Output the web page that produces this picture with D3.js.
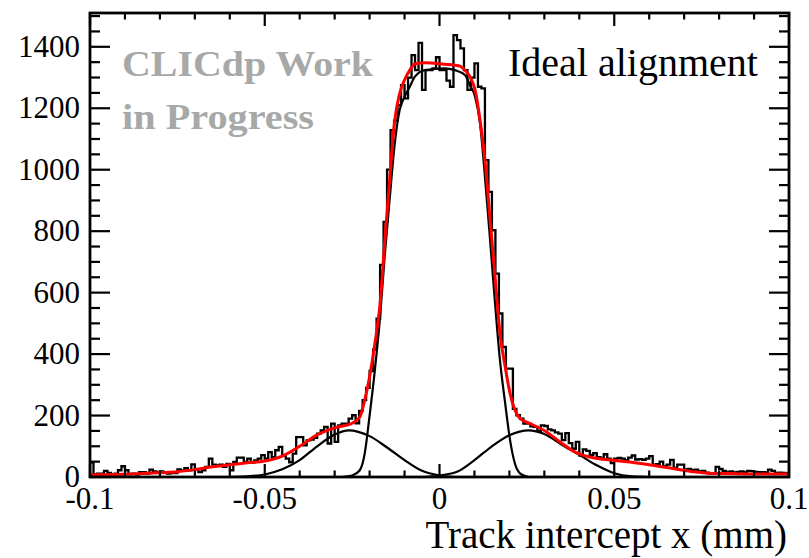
<!DOCTYPE html>
<html>
<head>
<meta charset="utf-8">
<script src="https://cdn.jsdelivr.net/npm/d3@7"></script>
<style>
  body { margin: 0; background: #fff; }
  svg { display: block; }
  text { font-family: "Liberation Serif", "Times New Roman", serif; }
</style>
</head>
<body>
<svg id="chart" width="809" height="558"></svg>
<script>
// Histogram: 200 bins of 0.001 mm from -0.1 to 0.1
const binLow = -0.1;
const binWidth = 0.001;
const counts = [
  47, 9, 11, 11, 20, 13, 9, 11, 22, 35,
  22, 9, 11, 8, 16, 16, 11, 24, 18, 16,
  18, 14, 11, 13, 13, 25, 21, 29, 22, 41,
  25, 16, 22, 33, 60, 40, 38, 40, 33, 43,
  22, 49, 63, 63, 49, 60, 47, 54, 60, 71,
  60, 81, 65, 87, 98, 70, 60, 48, 76, 130,
  130, 103, 119, 122, 127, 141, 152, 163, 109, 174,
  114, 168, 174, 174, 190, 201, 175, 215, 250, 290,
  345, 415, 515, 690, 830, 1000, 1129, 1160, 1210, 1275,
  1232, 1300, 1373, 1324, 1413, 1260, 1324, 1324, 1330, 1366,
  1324, 1324, 1290, 1270, 1438, 1422, 1395, 1324, 1260, 1300,
  1346, 1270, 1265, 1031, 928, 803, 662, 532, 423, 353,
  353, 222, 201, 190, 174, 174, 165, 163, 150, 168,
  166, 155, 152, 145, 141, 120, 143, 110, 92, 114,
  70, 90, 85, 72, 78, 65, 62, 74, 60, 45,
  60, 62, 60, 55, 63, 70, 57, 58, 56, 60,
  68, 40, 42, 50, 35, 40, 56, 30, 40, 40,
  25, 26, 22, 24, 18, 20, 14, 11, 11, 33,
  26, 20, 16, 18, 15, 17, 18, 16, 20, 19,
  17, 16, 16, 15, 24, 20, 13, 14, 13, 12
];

// Total fit (red)
const fitX = [-0.1, -0.09, -0.08, -0.075, -0.07, -0.065, -0.06, -0.055, -0.05, -0.045,
  -0.04, -0.035, -0.03, -0.025, -0.0228, -0.0214, -0.02, -0.0185, -0.017, -0.0157,
  -0.0142, -0.0128, -0.0114, -0.01, -0.0085, -0.0071, -0.004, 0.0015, 0.0044, 0.0059,
  0.0073, 0.0087, 0.0102, 0.0116, 0.013, 0.0144, 0.0159, 0.0173, 0.0188, 0.0202,
  0.0216, 0.0231, 0.0259, 0.0302, 0.0345, 0.0388, 0.043, 0.05, 0.0545, 0.06,
  0.066, 0.072, 0.077, 0.083, 0.09, 0.1];
const fitY = [7, 9, 14, 17, 24, 33, 40, 46, 52, 68,
  100, 137, 160, 175, 195, 250, 326, 434, 564, 760,
  977, 1161, 1248, 1292, 1324, 1344, 1348, 1343, 1340, 1337,
  1324, 1303, 1259, 1161, 1031, 847, 651, 467, 358, 271,
  217, 190, 174, 150, 114, 81, 65, 54, 49, 40,
  29, 18, 12, 11, 10, 10];

// Central component (black)
const coreX = [-0.028, -0.025, -0.0228, -0.0214, -0.02, -0.0185, -0.017, -0.0157, -0.0142, -0.0128,
  -0.0114, -0.01, -0.0085, -0.0071, -0.0042, 0.0015, 0.0044, 0.0073, 0.0087, 0.0102,
  0.0116, 0.013, 0.0144, 0.0159, 0.0173, 0.0188, 0.0202, 0.0216, 0.0231, 0.0255];
const coreY = [0, 5, 22, 76, 200, 347, 521, 716, 912, 1085,
  1194, 1237, 1270, 1302, 1324, 1330, 1324, 1308, 1275, 1237,
  1150, 977, 782, 564, 380, 239, 119, 43, 11, 0];

// Side components (black)
const sideLX = [-0.06, -0.055, -0.05, -0.045, -0.04, -0.035, -0.03, -0.026, -0.02, -0.015, -0.01, -0.005, 0, 0.005];
const sideLY = [0, 2, 8, 25, 55, 100, 138, 152, 133, 96, 55, 20, 5, 0];
const sideRX = [-0.005, 0, 0.005, 0.01, 0.015, 0.02, 0.0255, 0.03, 0.035, 0.04, 0.045, 0.05, 0.055, 0.06];
const sideRY = [0, 5, 17, 55, 100, 136, 152, 140, 105, 72, 38, 12, 2, 0];

const xTicks = [-0.1, -0.05, 0, 0.05, 0.1];
const xTickLabels = ["-0.1", "-0.05", "0", "0.05", "0.1"];
const yTicks = [0, 200, 400, 600, 800, 1000, 1200, 1400];

const frame = { left: 90, right: 789, top: 13, bottom: 477 };

const svg = d3.select("#chart");
const x = d3.scaleLinear().domain([-0.1, 0.1]).range([frame.left, frame.right]);
const y = d3.scaleLinear().domain([0, 1510]).range([frame.bottom, frame.top]);

svg.append("defs").append("clipPath").attr("id", "plotclip")
  .append("rect").attr("x", frame.left).attr("y", frame.top)
  .attr("width", frame.right - frame.left).attr("height", frame.bottom - frame.top);

const plot = svg.append("g").attr("clip-path", "url(#plotclip)");

// Histogram as ROOT-style steps
const edges = d3.range(counts.length + 1).map(i => binLow + i * binWidth);
const p = d3.path();
p.moveTo(x(edges[0]), y(0));
counts.forEach((c, i) => {
  p.lineTo(x(edges[i]), y(c));
  p.lineTo(x(edges[i + 1]), y(c));
});
p.lineTo(x(edges[counts.length]), y(0));
plot.append("path").attr("d", p.toString())
  .attr("fill", "none").attr("stroke", "#000").attr("stroke-width", 2.3)
  .attr("stroke-linejoin", "miter");

const line = d3.line().x(d => x(d[0])).y(d => y(d[1])).curve(d3.curveMonotoneX);
const zip = (a, b) => a.map((v, i) => [v, b[i]]);

[[sideLX, sideLY], [sideRX, sideRY], [coreX, coreY]].forEach(([xs, ys]) => {
  plot.append("path").attr("d", line(zip(xs, ys)))
    .attr("fill", "none").attr("stroke", "#000").attr("stroke-width", 2.2);
});

plot.append("path").attr("d", line(zip(fitX, fitY)))
  .attr("fill", "none").attr("stroke", "#ff0000").attr("stroke-width", 3);

// Ticks (inward, on all four sides)
const axisG = svg.append("g").attr("stroke", "#000").attr("stroke-width", 2.2);
const xMinor = d3.range(0, 21).map(i => +(-0.1 + i * 0.01).toFixed(3));
xMinor.forEach(v => {
  const isMajor = xTicks.some(t => Math.abs(t - v) < 1e-9);
  const len = isMajor ? 13 : 6.5;
  axisG.append("line").attr("x1", x(v)).attr("x2", x(v)).attr("y1", frame.bottom).attr("y2", frame.bottom - len);
  axisG.append("line").attr("x1", x(v)).attr("x2", x(v)).attr("y1", frame.top).attr("y2", frame.top + len);
});
const yMinor = d3.range(0, 1501, 50);
yMinor.forEach(v => {
  const isMajor = yTicks.includes(v);
  const len = isMajor ? 20 : 10;
  axisG.append("line").attr("x1", frame.left).attr("x2", frame.left + len).attr("y1", y(v)).attr("y2", y(v));
  axisG.append("line").attr("x1", frame.right).attr("x2", frame.right - len).attr("y1", y(v)).attr("y2", y(v));
});

// Frame
svg.append("rect").attr("x", frame.left).attr("y", frame.top)
  .attr("width", frame.right - frame.left).attr("height", frame.bottom - frame.top)
  .attr("fill", "none").attr("stroke", "#000").attr("stroke-width", 2.8);

// Tick labels
svg.append("g").selectAll("text").data(yTicks).join("text")
  .attr("x", frame.left - 10).attr("y", d => y(d) + 10)
  .attr("text-anchor", "end").attr("font-size", 31).text(d => d);

svg.append("g").selectAll("text").data(xTicks).join("text")
  .attr("x", d => x(d)).attr("y", 509)
  .attr("text-anchor", "middle").attr("font-size", 31).text((d, i) => xTickLabels[i]);

// Axis title
svg.append("text").attr("x", 787).attr("y", 548).attr("text-anchor", "end")
  .attr("font-size", 39).text("Track intercept x (mm)");

// Annotations
svg.append("text").attr("x", 508).attr("y", 76).attr("font-size", 40).text("Ideal alignment");
svg.append("text").attr("x", 122).attr("y", 76).attr("font-size", 36).attr("font-weight", "bold")
  .attr("fill", "#a7a9a8").attr("textLength", 251).attr("lengthAdjust", "spacingAndGlyphs")
  .text("CLICdp Work");
svg.append("text").attr("x", 122).attr("y", 129).attr("font-size", 36).attr("font-weight", "bold")
  .attr("fill", "#a7a9a8").attr("textLength", 192).attr("lengthAdjust", "spacingAndGlyphs")
  .text("in Progress");
</script>
</body>
</html>
